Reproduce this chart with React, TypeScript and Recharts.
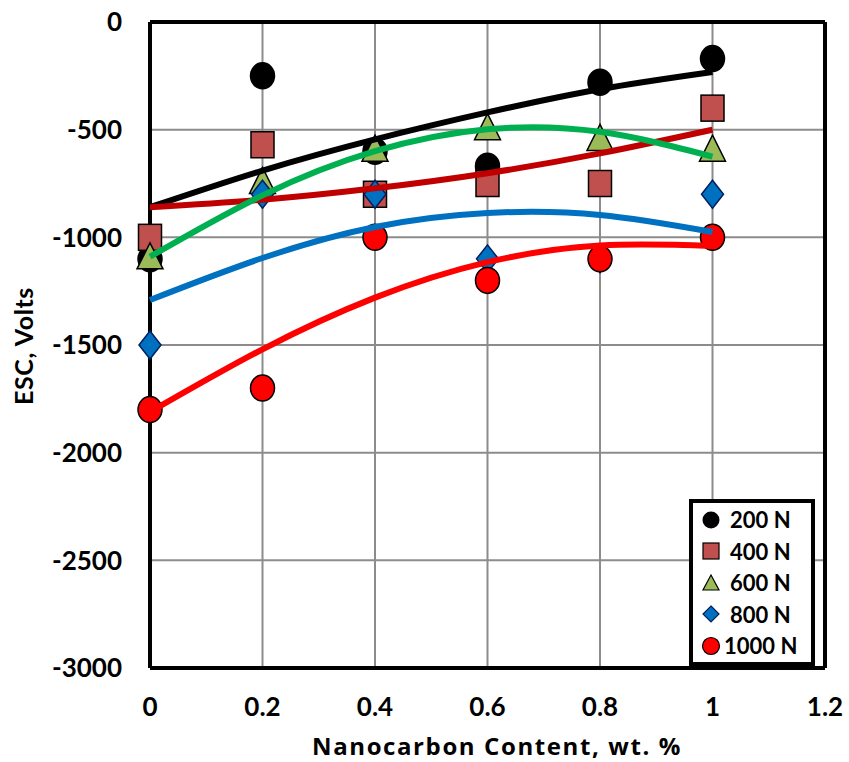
import React from 'react';
import {
  ComposedChart, Line, XAxis, YAxis, CartesianGrid, ReferenceLine, Legend
} from 'recharts';

// nanocarbon content, wt. %
const xValues = [0, 0.2, 0.4, 0.6, 0.8, 1.0];

// measured ESC (volts) per load
const esc200 = [-1100, -250, -600, -670, -280, -170];
const esc400 = [-1000, -570, -800, -750, -750, -400];
const esc600 = [-1100, -750, -600, -500, -550, -600];
const esc800 = [-1500, -800, -800, -1100, -1100, -800];
const esc1000 = [-1800, -1700, -1000, -1200, -1100, -1000];

// trendline values at the same x positions
const trend200 = [-860, -690, -545, -420, -312, -232];
const trend400 = [-860, -825, -772, -702, -610, -500];
const trend600 = [-1090, -805, -600, -498, -510, -625];
const trend800 = [-1291, -1096, -952, -887, -896, -975];
const trend1000 = [-1811, -1520, -1280, -1115, -1038, -1040];

const xTicks = [0, 0.2, 0.4, 0.6, 0.8, 1, 1.2];
const yTicks = [0, -500, -1000, -1500, -2000, -2500, -3000];

const FONT = 'Lato, "Open Sans", sans-serif';
const W = 849;
const H = 762;

const toPoints = (ys: number[]) => xValues.map((x, i) => ({ x, y: ys[i] }));

// marker shapes, drawn as the dots of stroke-less lines
const circle = (fill: string, stroke: string) => (p: any) => (
  <ellipse key={p.key} cx={p.cx} cy={p.cy} rx={12} ry={13} fill={fill} stroke={stroke} strokeWidth={1.5} />
);
const square = (p: any) => (
  <rect key={p.key} x={p.cx - 11.5} y={p.cy - 13} width={23} height={26} fill="#C0504D" stroke="#000" strokeWidth={1.5} />
);
const triangle = (p: any) => (
  <path key={p.key} d={`M${p.cx},${p.cy - 16} L${p.cx + 13},${p.cy + 10} L${p.cx - 13},${p.cy + 10} Z`} fill="#9BBB59" stroke="#000" strokeWidth={1.5} />
);
const diamond = (p: any) => (
  <path key={p.key} d={`M${p.cx},${p.cy - 14} L${p.cx + 11},${p.cy} L${p.cx},${p.cy + 14} L${p.cx - 11},${p.cy} Z`} fill="#0070C0" stroke="#002060" strokeWidth={1.5} />
);

const series = [
  { name: '200 N', values: esc200, trend: trend200, shape: circle('#000', '#000'), line: '#000000' },
  { name: '400 N', values: esc400, trend: trend400, shape: square, line: '#C00000' },
  { name: '600 N', values: esc600, trend: trend600, shape: triangle, line: '#00B050' },
  { name: '800 N', values: esc800, trend: trend800, shape: diamond, line: '#0070C0' },
  { name: '1000 N', values: esc1000, trend: trend1000, shape: circle('#FF0000', '#000'), line: '#FF0000' },
];

function LegendMarker({ index }: { index: number }) {
  const c = 10;
  const shapes = [
    <circle cx={c} cy={c} r={8.5} fill="#000" />,
    <rect x={2} y={2} width={16} height={16} fill="#C0504D" stroke="#000" strokeWidth={1.2} />,
    <path d="M10,2 L18,17 L2,17 Z" fill="#9BBB59" stroke="#000" strokeWidth={1.2} />,
    <path d="M10,2 L18,10 L10,18 L2,10 Z" fill="#0070C0" stroke="#002060" strokeWidth={1.2} />,
    <circle cx={c} cy={c} r={8.5} fill="#FF0000" stroke="#000" strokeWidth={1.2} />,
  ];
  return <svg width={20} height={20}>{shapes[index]}</svg>;
}

function LegendBox() {
  return (
    <div style={{
      width: 126, height: 167, boxSizing: 'border-box', border: '4px solid #000',
      background: '#fff', padding: '1px 0 0 8px', fontFamily: FONT, fontWeight: 700, fontSize: 22,
    }}>
      {series.map((s, i) => (
        <div key={s.name} style={{ display: 'flex', alignItems: 'center', height: 31.5, gap: i === 4 ? 3 : 9 }}>
          <LegendMarker index={i} />
          <span>{s.name}</span>
        </div>
      ))}
    </div>
  );
}

function XTitle() {
  return (
    <text x={497} y={745} textAnchor="middle" dominantBaseline="central"
      fontFamily='"Open Sans", sans-serif' fontWeight={700} fontSize={24} letterSpacing={1.6} fill="#000">
      Nanocarbon Content, wt. %
    </text>
  );
}

function YTitle() {
  return (
    <text x={23} y={346} transform="rotate(-90 23 346)" textAnchor="middle" dominantBaseline="central"
      fontFamily={FONT} fontWeight={700} fontSize={25} letterSpacing={0.6} fill="#000">
      ESC, Volts
    </text>
  );
}

export default function App() {
  const tickStyle = { fill: '#000', fontSize: 26, fontWeight: 700, fontFamily: FONT };
  return (
    <div style={{ position: 'absolute', left: 0, top: 0, width: W, height: H, background: '#fff' }}>
      {/* base chart: axes, grid, markers, legend */}
      <div style={{ position: 'absolute', left: 0, top: 0 }}>
        <ComposedChart width={W} height={H} margin={{ top: 22, right: 24, bottom: 0, left: 0 }}>
          <CartesianGrid stroke="#8c8c8c" strokeWidth={2} />
          <XAxis
            type="number"
            dataKey="x"
            domain={[0, 1.2]}
            ticks={xTicks}
            height={94}
            axisLine={{ stroke: '#000', strokeWidth: 4 }}
            tickLine={false}
            tickSize={30}
            tickMargin={0}
            tick={tickStyle}
            label={<XTitle />}
          />
          <YAxis
            type="number"
            dataKey="y"
            domain={[-3000, 0]}
            ticks={yTicks}
            width={150}
            axisLine={{ stroke: '#000', strokeWidth: 4 }}
            tickLine={false}
            tickSize={28}
            tickMargin={0}
            tick={tickStyle}
            label={<YTitle />}
          />
          <ReferenceLine y={0} stroke="#000" strokeWidth={4} />
          <ReferenceLine x={1.2} stroke="#000" strokeWidth={4} />
          {series.map(s => (
            <Line key={s.name} name={s.name} data={toPoints(s.values)} dataKey="y" stroke="none"
              dot={s.shape} activeDot={false} isAnimationActive={false} />
          ))}
          <Legend
            layout="vertical"
            align="center"
            verticalAlign="middle"
            content={() => <LegendBox />}
            wrapperStyle={{ left: 689, top: 499, width: 126, height: 167 }}
          />
        </ComposedChart>
      </div>
      {/* overlay chart: trendlines drawn on top of the markers, same plot box */}
      <div style={{ position: 'absolute', left: 0, top: 0, pointerEvents: 'none' }}>
        <ComposedChart width={W} height={H} margin={{ top: 22, right: 24, bottom: 94, left: 150 }}>
          <XAxis type="number" dataKey="x" domain={[0, 1.2]} ticks={xTicks} hide />
          <YAxis type="number" dataKey="y" domain={[-3000, 0]} ticks={yTicks} hide />
          {series.map(s => (
            <Line key={s.name + '-trend'} data={toPoints(s.trend)} dataKey="y" type="natural" stroke={s.line}
              strokeWidth={6} dot={false} activeDot={false} isAnimationActive={false} />
          ))}
        </ComposedChart>
      </div>
    </div>
  );
}
